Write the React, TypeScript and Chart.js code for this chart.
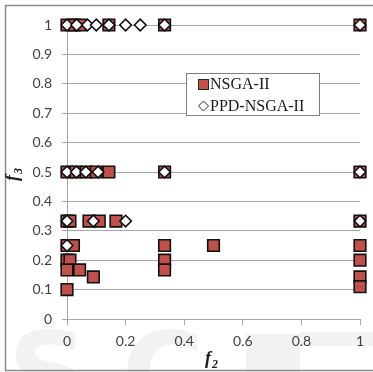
import React, { useEffect, useRef } from "react";
import { Chart, registerables } from "chart.js";

Chart.register(...registerables);

// NSGA-II (red squares)
const nsgaX = [0, 0.025, 0.045, 0.143, 0.333, 1,
  0, 0.03, 0.065, 0.1, 0.143, 0.333, 1,
  0, 0.01, 0.075, 0.11, 0.167, 1,
  0, 0.022, 0.333, 0.5, 1,
  0, 0.01, 0.333, 1,
  0, 0.043, 0.333,
  0.09, 1,
  1,
  0];
const nsgaY = [1, 1, 1, 1, 1, 1,
  0.5, 0.5, 0.5, 0.5, 0.5, 0.5, 0.5,
  0.333, 0.333, 0.333, 0.333, 0.333, 0.333,
  0.25, 0.25, 0.25, 0.25, 0.25,
  0.2, 0.2, 0.2, 0.2,
  0.167, 0.167, 0.167,
  0.143, 0.143,
  0.11,
  0.1];

// PPD-NSGA-II (white diamonds)
const ppdX = [0, 0.033, 0.07, 0.1, 0.143, 0.2, 0.25, 0.333, 1,
  0, 0.032, 0.064, 0.106, 0.333, 1,
  0, 0.09, 0.2, 1,
  0];
const ppdY = [1, 1, 1, 1, 1, 1, 1, 1, 1,
  0.5, 0.5, 0.5, 0.5, 0.5, 0.5,
  0.333, 0.333, 0.333, 0.333,
  0.25];

const seriesNames = ["NSGA-II", "PPD-NSGA-II"];
const yTickStep = 0.1;
const xTickStep = 0.2;

const RED = "#C0504D";
const GRID = "#A6A6A6";
const TICK_FONT = "Lato";

const framePlugin = {
  id: "frameAndText",
  beforeDraw(chart: any) {
    const ctx = chart.ctx;
    ctx.save();
    ctx.fillStyle = "#FFFFFF";
    ctx.fillRect(0, 0, chart.width, chart.height);
    // faint watermark
    ctx.fillStyle = "#F2F2F2";
    ctx.font = "bold 112px 'DejaVu Sans'";
    ctx.textBaseline = "alphabetic";
    ctx.textAlign = "left";
    ctx.fillText("S", 8, 412);
    ctx.fillText("C", 122, 412);
    ctx.fillRect(246, 334, 54, 40);
    ctx.fillRect(300, 332, 73, 14);
    // frame
    ctx.strokeStyle = "#8C8C8C";
    ctx.lineWidth = 1.5;
    ctx.strokeRect(5.5, 5.5, chart.width + 10, chart.height - 1.5 - 5.5);
    ctx.restore();
  },
  afterDraw(chart: any) {
    const ctx = chart.ctx;
    ctx.save();
    // axis titles
    ctx.fillStyle = "#1A1A1A";
    ctx.textBaseline = "alphabetic";
    ctx.textAlign = "left";
    ctx.font = "italic bold 18px 'Liberation Serif'";
    ctx.fillText("f", 205, 364);
    ctx.font = "italic bold 12px 'Liberation Serif'";
    ctx.fillText("2", 212, 368);

    ctx.translate(18, 174);
    ctx.rotate(-Math.PI / 2);
    ctx.font = "italic bold 18px 'Liberation Serif'";
    ctx.fillText("f", -7, 0);
    ctx.font = "italic bold 12px 'Liberation Serif'";
    ctx.fillText("3", 0, 4);
    ctx.setTransform(1, 0, 0, 1, 0, 0);

    // legend
    const lx = 186.5, ly = 73.5, lw = 133, lh = 42;
    ctx.fillStyle = "#FFFFFF";
    ctx.fillRect(lx, ly, lw, lh);
    ctx.strokeStyle = "#7F7F7F";
    ctx.lineWidth = 1;
    ctx.strokeRect(lx, ly, lw, lh);

    ctx.fillStyle = RED;
    ctx.fillRect(198.5, 79.5, 10, 10);
    ctx.strokeStyle = "#262626";
    ctx.strokeRect(198.5, 79.5, 10, 10);

    ctx.beginPath();
    ctx.moveTo(203.5, 101);
    ctx.lineTo(208.5, 106);
    ctx.lineTo(203.5, 111);
    ctx.lineTo(198.5, 106);
    ctx.closePath();
    ctx.fillStyle = "#FFFFFF";
    ctx.fill();
    ctx.strokeStyle = "#262626";
    ctx.stroke();

    ctx.fillStyle = "#1A1A1A";
    ctx.font = "16px 'Liberation Serif'";
    ctx.textBaseline = "middle";
    ctx.fillText(seriesNames[0], 210, 85);
    ctx.fillText(seriesNames[1], 210, 107);
    ctx.restore();
  },
};

export default function App() {
  const ref = useRef<HTMLCanvasElement | null>(null);
  useEffect(() => {
    document.body.style.margin = "0";
    const canvas = ref.current;
    if (!canvas) return;
    const fmt = (v: any) => String(Number(Number(v).toFixed(1)));
    const chart = new Chart(canvas, {
      type: "scatter",
      data: {
        datasets: [
          {
            label: seriesNames[0],
            data: nsgaX.map((x, i) => ({ x, y: nsgaY[i] })),
            pointStyle: "rect",
            pointRadius: 8.2,
            pointBackgroundColor: RED,
            pointBorderColor: "#111111",
            pointBorderWidth: 1.6,
            clip: false,
            order: 2,
          } as any,
          {
            label: seriesNames[1],
            data: ppdX.map((x, i) => ({ x, y: ppdY[i] })),
            pointStyle: "rectRot",
            pointRadius: 5.8,
            pointBackgroundColor: "#FFFFFF",
            pointBorderColor: "#111111",
            pointBorderWidth: 1.6,
            clip: false,
            order: 1,
          } as any,
        ],
      },
      options: {
        animation: false,
        responsive: false,
        maintainAspectRatio: false,
        layout: { padding: { top: 25, right: 13, left: 0, bottom: 0 } },
        plugins: { legend: { display: false }, tooltip: { enabled: false } },
        scales: {
          x: {
            type: "linear",
            min: 0,
            max: 1,
            ticks: {
              stepSize: xTickStep,
              padding: 8,
              color: "#404040",
              font: { family: TICK_FONT, size: 14 },
              callback: fmt,
              maxRotation: 0,
            },
            grid: { drawOnChartArea: false, drawTicks: true, tickLength: 6, color: GRID },
            border: { display: true, color: GRID },
            afterFit: (s: any) => { s.height = 53; },
          },
          y: {
            type: "linear",
            min: 0,
            max: 1,
            ticks: {
              stepSize: yTickStep,
              padding: 10,
              color: "#404040",
              font: { family: TICK_FONT, size: 14 },
              callback: fmt,
            },
            grid: { color: GRID, tickLength: 5 },
            border: { display: true, color: GRID },
            afterFit: (s: any) => { s.width = 67; },
          },
        },
      } as any,
      plugins: [framePlugin],
    });
    return () => chart.destroy();
  }, []);
  return (
    <div style={{ width: 373, height: 372 }}>
      <canvas ref={ref} width={373} height={372} style={{ display: "block" }} />
    </div>
  );
}
